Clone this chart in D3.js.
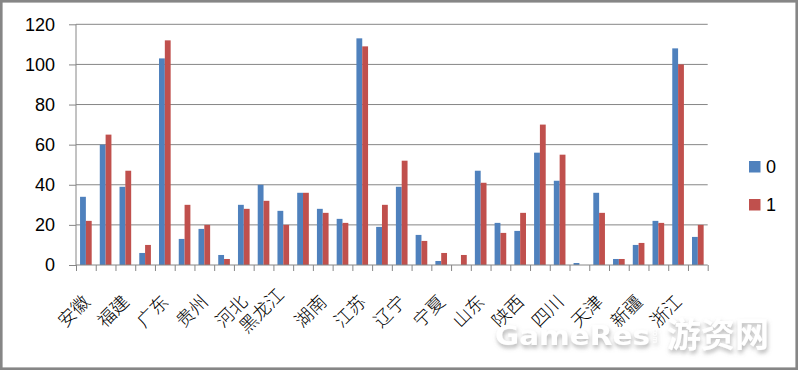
<!DOCTYPE html>
<html>
<head>
<meta charset="utf-8">
<script src="https://cdn.jsdelivr.net/npm/d3@7"></script>
<style>
  body { margin: 0; background: #fff; }
  svg { display: block; }
</style>
</head>
<body>
<div id="chart"></div>
<script>
// provinces (every other one gets a label on the axis, like Excel does)
const provinces = ["安徽","北京","福建","甘肃","广东","广西","贵州","海南","河北","河南",
  "黑龙江","湖北","湖南","吉林","江苏","江西","辽宁","内蒙古","宁夏","青海",
  "山东","山西","陕西","上海","四川","台湾","天津","西藏","新疆","云南","浙江","重庆"];
const series0 = [34,60,39,6,103,13,18,5,30,40,27,36,28,23,113,19,39,15,2,0,47,21,17,56,42,1,36,3,10,22,108,14];
const series1 = [22,65,47,10,112,30,20,3,28,32,20,36,26,21,109,30,52,12,6,5,41,16,26,70,55,0,26,3,11,21,100,20];
const seriesNames = ["0", "1"];
const yTicks = [0,20,40,60,80,100,120];

const W = 798, H = 371;
const margin = { top: 24.3, left: 76, right: 90.3, bottom: 106 };
const width = W - margin.left - margin.right,
      height = H - margin.top - margin.bottom;
const colors = ["#4F81BD", "#C0504D"];
const gray = "#868686";

const data = provinces.map((p, i) => ({ name: p, values: [series0[i], series1[i]] }));

const svg = d3.select("#chart").append("svg")
    .attr("width", W).attr("height", H);

// outer frame
svg.append("rect")
    .attr("x", 1.3).attr("y", 1.3)
    .attr("width", W - 2.6).attr("height", H - 3.6)
    .attr("fill", "white").attr("stroke", gray).attr("stroke-width", 2.6);

const g = svg.append("g").attr("transform", `translate(${margin.left},${margin.top})`);

const x0 = d3.scaleBand().domain(d3.range(provinces.length)).range([0, width]).padding(0);
const x1 = d3.scaleBand().domain([0, 1])
    .range([x0.bandwidth() * 0.205, x0.bandwidth() * 0.795]).padding(0);
const xEdge = d3.scaleLinear().domain([0, provinces.length]).range([0, width]);
const y = d3.scaleLinear().domain([0, 120]).range([height, 0]);

// gridlines
g.append("g")
    .selectAll("line")
    .data(yTicks.slice(1))
    .join("line")
    .attr("x1", 0).attr("x2", width)
    .attr("y1", d => y(d)).attr("y2", d => y(d))
    .attr("stroke", gray).attr("stroke-width", 1);

// y axis
const yAxis = g.append("g")
    .call(d3.axisLeft(y).tickValues(yTicks).tickSize(7).tickPadding(14));
yAxis.selectAll("line, path").attr("stroke", gray);
yAxis.select(".domain").attr("d", `M0,${height}V0`);
yAxis.selectAll("text")
    .style("font-family", "'Liberation Sans', Arial, sans-serif")
    .style("font-size", "18px").attr("fill", "#000");

// bars
const groups = g.append("g")
    .selectAll("g")
    .data(data)
    .join("g")
    .attr("transform", (d, i) => `translate(${x0(i)},0)`);

groups.selectAll("rect")
    .data(d => d.values)
    .join("rect")
    .attr("x", (v, j) => x1(j))
    .attr("width", x1.bandwidth())
    .attr("y", v => y(v))
    .attr("height", v => height - y(v))
    .attr("fill", (v, j) => colors[j]);

// x axis with ticks on the category edges
const xAxis = g.append("g")
    .attr("transform", `translate(0,${height})`)
    .call(d3.axisBottom(xEdge).tickValues(d3.range(provinces.length + 1)).tickSize(6).tickFormat(""));
xAxis.selectAll("line, path").attr("stroke", gray);
xAxis.select(".domain").attr("d", `M0,0H${width}`);

// category labels, every other one, rotated
g.append("g")
    .selectAll("text")
    .data(data.filter((d, i) => i % 2 == 0))
    .join("text")
    .attr("text-anchor", "end")
    .attr("transform", d => {
        const i = provinces.indexOf(d.name);
        const n = d.name.length;
        const cx = x0(i) + x0.bandwidth() / 2;
        return `translate(${cx + 11 - 3 * n},${height + 52 - 7 * n}) rotate(-45)`;
    })
    .style("font-family", "'Noto Sans CJK SC', sans-serif")
    .style("font-size", "18px")
    .style("font-weight", 300)
    .attr("fill", "#000")
    .text(d => d.name);

// legend
const legend = svg.append("g")
    .selectAll("g")
    .data(seriesNames)
    .join("g")
    .attr("transform", (d, i) => `translate(749,${161 + i * 38})`);
legend.append("rect")
    .attr("width", 11.5).attr("height", 11.5)
    .attr("fill", (d, i) => colors[i]);
legend.append("text")
    .attr("x", 17).attr("y", 12)
    .style("font-family", "'Liberation Sans', Arial, sans-serif")
    .style("font-size", "18px")
    .text(d => d);

// watermark
const defs = svg.append("defs");
defs.append("filter").attr("id", "shadow")
    .attr("x", "-10%").attr("y", "-30%").attr("width", "130%").attr("height", "180%")
    .append("feDropShadow")
    .attr("dx", 1).attr("dy", 3).attr("stdDeviation", 2)
    .attr("flood-color", "#777").attr("flood-opacity", 0.55);
const wm = svg.append("g").attr("filter", "url(#shadow)").attr("fill", "white");
wm.append("text")
    .attr("x", 495).attr("y", 345)
    .attr("textLength", 155).attr("lengthAdjust", "spacingAndGlyphs")
    .style("font-family", "'DejaVu Sans', sans-serif")
    .style("font-weight", "bold").style("font-size", "26px")
    .text("GameRes");
wm.append("text")
    .attr("transform", "translate(653,328) rotate(90)")
    .style("font-family", "'DejaVu Sans', sans-serif")
    .style("font-size", "7px")
    .text("com");
wm.append("text")
    .attr("x", 667).attr("y", 347)
    .style("font-family", "'Noto Sans CJK SC', sans-serif")
    .style("font-weight", "bold").style("font-size", "34px")
    .text("游资网");
</script>
</body>
</html>
